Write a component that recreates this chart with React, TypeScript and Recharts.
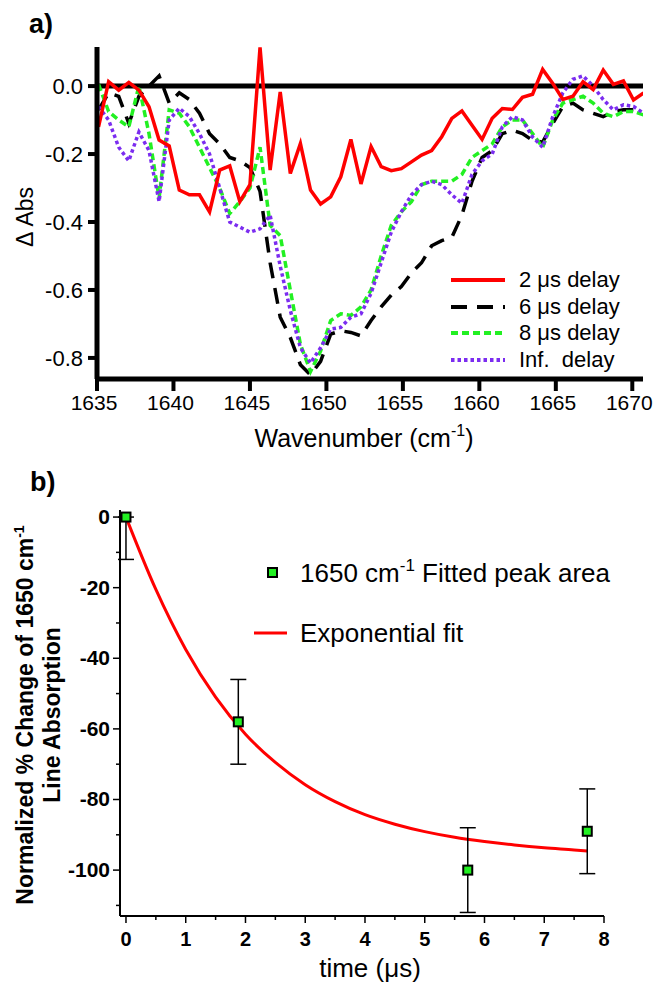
import React from 'react';
import {
  LineChart,
  Line,
  XAxis,
  YAxis,
  ReferenceLine,
  Legend,
  ComposedChart,
  Scatter,
  ErrorBar,
  Label,
} from 'recharts';

const FONT = "'Liberation Sans', Arial, Helvetica, sans-serif";

// ---------- panel a) : transient IR spectra ----------
const wavenumbers = [
  1635.1, 1635.76, 1636.42, 1637.08, 1637.74, 1638.4, 1639.06, 1639.72, 1640.38, 1641.04,
  1641.7, 1642.36, 1643.02, 1643.68, 1644.34, 1645.0, 1645.66, 1646.32, 1646.98, 1647.64,
  1648.3, 1648.96, 1649.62, 1650.28, 1650.94, 1651.6, 1652.26, 1652.92, 1653.58, 1654.24,
  1654.9, 1655.56, 1656.22, 1656.88, 1657.54, 1658.2, 1658.86, 1659.52, 1660.18, 1660.84,
  1661.5, 1662.16, 1662.82, 1663.48, 1664.14, 1664.8, 1665.46, 1666.12, 1666.78, 1667.44,
  1668.1, 1668.76, 1669.42, 1670.08, 1670.74,
];
const delay2us = [
  -0.12, 0.013, -0.012, 0.011, -0.012, -0.061, -0.159, -0.176, -0.306, -0.32,
  -0.32, -0.37, -0.247, -0.235, -0.34, -0.29, 0.114, -0.247, -0.017, -0.257,
  -0.169, -0.306, -0.347, -0.326, -0.267, -0.157, -0.288, -0.178, -0.237, -0.249,
  -0.243, -0.223, -0.203, -0.19, -0.149, -0.095, -0.073, -0.115, -0.157, -0.095,
  -0.066, -0.069, -0.033, -0.024, 0.049, 0.008, -0.039, -0.03, 0.013, -0.01,
  0.047, 0.005, 0.015, -0.041, -0.02,
];
const delay6us = [
  -0.07, -0.02, -0.03, -0.11, -0.03, 0.0, 0.03, -0.05, -0.02, -0.04,
  -0.08, -0.14, -0.17, -0.21, -0.22, -0.24, -0.31, -0.52, -0.68, -0.74,
  -0.82, -0.85, -0.81, -0.73, -0.72, -0.725, -0.735, -0.69, -0.65, -0.615,
  -0.59, -0.55, -0.52, -0.47, -0.455, -0.445, -0.38, -0.28, -0.21, -0.19,
  -0.14, -0.13, -0.14, -0.16, -0.165, -0.11, -0.06, -0.05, -0.07, -0.08,
  -0.09, -0.075, -0.07, -0.07, -0.075,
];
const delay8us = [
  0.005, -0.075, -0.1, -0.12, 0.0, -0.14, -0.33, -0.07, -0.08, -0.12,
  -0.18, -0.24, -0.3, -0.375, -0.34, -0.3, -0.18, -0.41, -0.44, -0.6,
  -0.76, -0.84, -0.78, -0.69, -0.67, -0.675, -0.65, -0.6, -0.5, -0.41,
  -0.37, -0.34, -0.29, -0.28, -0.28, -0.28, -0.26, -0.21, -0.19, -0.17,
  -0.12, -0.1, -0.1, -0.14, -0.18, -0.1, -0.05, -0.04, -0.03, -0.05,
  -0.08, -0.09, -0.075, -0.075, -0.085,
];
const delayInf = [
  -0.06, -0.1, -0.18, -0.22, -0.135, -0.19, -0.34, -0.1, -0.065, -0.09,
  -0.14, -0.2, -0.3, -0.4, -0.415, -0.43, -0.42, -0.38, -0.53, -0.66,
  -0.77, -0.815, -0.77, -0.715, -0.71, -0.68, -0.67, -0.61, -0.52, -0.43,
  -0.37, -0.32, -0.29, -0.28, -0.29, -0.32, -0.345, -0.26, -0.22, -0.2,
  -0.12, -0.09, -0.1, -0.15, -0.18, -0.09, -0.02, 0.02, 0.03, 0.0,
  -0.04, -0.07, -0.055, -0.06, -0.08,
];
const wavenumberTicks = [1635, 1640, 1645, 1650, 1655, 1660, 1665, 1670];
const absTicks = [0, -0.2, -0.4, -0.6, -0.8];

// ---------- panel b) : kinetics ----------
const timeUs = [0, 1.88, 5.72, 7.72];
const pctChange = [0, -58, -100, -89];
const pctError = [12, 12, 12, 12];
const fitTimeUs = [0, 0.5, 1, 1.5, 2, 2.5, 3, 3.5, 4, 4.5, 5, 5.5, 6, 6.5, 7, 7.5, 7.72];
const fitPct = [
  0, -20.5, -37.5, -51, -61.5, -69.5, -75.8, -80.6, -84.3, -87.0, -89.1, -90.7, -91.9,
  -92.9, -93.7, -94.3, -94.6,
];
const timeTicks = [0, 0.5, 1, 1.5, 2, 2.5, 3, 3.5, 4, 4.5, 5, 5.5, 6, 6.5, 7, 7.5, 8];
const pctTicks = [0, -10, -20, -30, -40, -50, -60, -70, -80, -90, -100, -110];
const PCT_DOMAIN: [number, number] = [-113, 2];

const spectrumSeries = [
  { key: 'd2', name: '2 \u03bcs delay', values: delay2us, color: '#ff0000', dash: undefined as string | undefined },
  { key: 'd6', name: '6 \u03bcs delay', values: delay6us, color: '#000000', dash: '16 10' },
  { key: 'd8', name: '8 \u03bcs delay', values: delay8us, color: '#22f022', dash: '7 4' },
  { key: 'dInf', name: 'Inf.  delay', values: delayInf, color: '#7b2cf0', dash: '3.5 3' },
];
const drawOrder = ['d6', 'd8', 'dInf', 'd2'];

const spectrumRows = wavenumbers.map((wn, i) => {
  const row: Record<string, number> = { wn };
  spectrumSeries.forEach((s) => {
    row[s.key] = s.values[i];
  });
  return row;
});

// error bars are cut at the top edge of the plot, as in the original figure
const pointRows = timeUs.map((t, i) => {
  const e = pctError[i];
  const upper = pctChange[i] + e > PCT_DOMAIN[1] ? 0 : e;
  return { t, pct: pctChange[i], err: [e, upper] };
});
const fitRows = fitTimeUs.map((t, i) => ({ t, pct: fitPct[i] }));

// ---------- custom pieces ----------
const AbsLabel = (props: any) => {
  const vb = props.viewBox;
  const cx = vb.x - 4;
  const cy = vb.y + vb.height / 2 + 4;
  return (
    <text x={cx} y={cy} transform={`rotate(-90 ${cx} ${cy})`} textAnchor="middle"
      fontSize={23} fontFamily={FONT} fill="#000">
      {'\u0394 Abs'}
    </text>
  );
};

const WnLabel = (props: any) => {
  const vb = props.viewBox;
  const cx = vb.x + vb.width / 2 - 6;
  const cy = vb.y + 68;
  return (
    <text x={cx} y={cy} textAnchor="middle" fontSize={25} fontFamily={FONT} fill="#000">
      Wavenumber (cm<tspan dy={-11} fontSize={16}>-1</tspan>
      <tspan dy={11}>)</tspan>
    </text>
  );
};

const SpectrumLegend = () => (
  <div style={{ fontFamily: FONT, fontSize: 22, color: '#000', lineHeight: 1 }}>
    {spectrumSeries.map((s) => (
      <div key={s.key} style={{ display: 'flex', alignItems: 'center', height: 26.5 }}>
        <svg width={54} height={8} style={{ marginRight: 14, flex: 'none' }}>
          <line x1={0} y1={4} x2={54} y2={4} stroke={s.color} strokeWidth={4} strokeDasharray={s.dash} />
        </svg>
        <span style={{ whiteSpace: 'pre' }}>{s.name}</span>
      </div>
    ))}
  </div>
);

const PctTick = (props: any) => {
  const { x, y, payload } = props;
  const v = payload.value;
  const major = v % 20 === 0;
  const len = major ? 7 : 4;
  return (
    <g>
      <line x1={x - len} y1={y} x2={x} y2={y} stroke="#000" strokeWidth={1.5} />
      {major && (
        <text x={x - len - 3} y={y} dy={7} textAnchor="end" fontSize={21} fontWeight="bold"
          fontFamily={FONT} fill="#000">
          {v}
        </text>
      )}
    </g>
  );
};

const TimeTick = (props: any) => {
  const { x, y, payload } = props;
  const v = payload.value;
  const major = Number.isInteger(v);
  const len = major ? 7 : 4;
  return (
    <g>
      <line x1={x} y1={y} x2={x} y2={y + len} stroke="#000" strokeWidth={1.5} />
      {major && (
        <text x={x} y={y + 30} textAnchor="middle" fontSize={20} fontWeight="bold"
          fontFamily={FONT} fill="#000">
          {v}
        </text>
      )}
    </g>
  );
};

const PctLabel = (props: any) => {
  const vb = props.viewBox;
  const cy = vb.y + vb.height / 2 + 2;
  const x1 = vb.x - 37;
  const x2 = vb.x - 10;
  return (
    <g fontFamily={FONT} fontWeight="bold" fontSize={23} fill="#000">
      <text x={x1} y={cy} transform={`rotate(-90 ${x1} ${cy})`} textAnchor="middle">
        Normalized % Change of 1650 cm<tspan dy={-9} fontSize={14}>-1</tspan>
      </text>
      <text x={x2} y={cy} transform={`rotate(-90 ${x2} ${cy})`} textAnchor="middle">
        Line Absorption
      </text>
    </g>
  );
};

const TimeLabel = (props: any) => {
  const vb = props.viewBox;
  const cx = vb.x + vb.width / 2 + 8;
  const cy = vb.y + 61;
  return (
    <text x={cx} y={cy} textAnchor="middle" fontSize={26} fontFamily={FONT} fill="#000">
      {'time (\u03bcs)'}
    </text>
  );
};

const KineticsLegend = () => (
  <div style={{ fontFamily: FONT, fontSize: 26, color: '#000', lineHeight: 1 }}>
    <div style={{ display: 'flex', alignItems: 'center', height: 36 }}>
      <svg width={46} height={14} style={{ flex: 'none' }}>
        <rect x={14} y={2} width={9} height={9} fill="#22f022" stroke="#000" strokeWidth={2} />
      </svg>
      <span style={{ whiteSpace: 'pre' }}>
        1650 cm<sup style={{ fontSize: 17, verticalAlign: 'top', position: 'relative', top: -3 }}>-1</sup> Fitted peak area
      </span>
    </div>
    <div style={{ display: 'flex', alignItems: 'center', height: 36, marginTop: 24 }}>
      <svg width={46} height={6} style={{ flex: 'none' }}>
        <line x1={0} y1={3} x2={33} y2={3} stroke="#ff0000" strokeWidth={3} />
      </svg>
      <span style={{ whiteSpace: 'pre' }}>Exponential fit</span>
    </div>
  </div>
);

const SquareDot = (props: any) => {
  const { cx, cy } = props;
  return <rect x={cx - 4.5} y={cy - 4.5} width={9} height={9} fill="#22f022" stroke="#000" strokeWidth={2} />;
};

export default function App() {
  return (
    <div style={{ position: 'absolute', left: 0, top: 0, width: 655, height: 990, background: '#fff' }}>
      <div style={{ position: 'absolute', left: 29, top: 10, fontFamily: FONT, fontSize: 27, fontWeight: 'bold', lineHeight: '28px' }}>
        a)
      </div>
      <div style={{ position: 'absolute', left: 30, top: 468, fontFamily: FONT, fontSize: 27, fontWeight: 'bold', lineHeight: '28px' }}>
        b)
      </div>

      <div style={{ position: 'absolute', left: 0, top: 0 }}>
        <LineChart width={655} height={470} data={spectrumRows}
          margin={{ top: 47, right: 12, left: 37, bottom: 31 }}>
          <XAxis type="number" dataKey="wn" domain={[1635, 1670.7]} ticks={wavenumberTicks}
            allowDataOverflow interval={0} height={60}
            axisLine={{ stroke: '#000', strokeWidth: 5 }}
            tickLine={{ stroke: '#000', strokeWidth: 4 }} tickSize={12} tickMargin={4}
            tick={{ fill: '#000', fontSize: 21, fontFamily: FONT, dx: -3 }}
            label={<Label content={WnLabel} />} />
          <YAxis type="number" domain={[-0.862, 0.115]} ticks={absTicks} allowDataOverflow
            interval={0} width={60} tickFormatter={(v: number) => v.toFixed(1)}
            axisLine={{ stroke: '#000', strokeWidth: 5 }}
            tickLine={{ stroke: '#000', strokeWidth: 4 }} tickSize={9} tickMargin={5}
            tick={{ fill: '#000', fontSize: 22, fontFamily: FONT }}
            label={<Label content={AbsLabel} />} />
          <ReferenceLine y={0} stroke="#000" strokeWidth={5} />
          {drawOrder.map((k) => {
            const s = spectrumSeries.find((q) => q.key === k)!;
            return (
              <Line key={k} type="linear" dataKey={k} name={s.name} stroke={s.color}
                strokeWidth={3.5} strokeDasharray={s.dash} dot={false} activeDot={false}
                isAnimationActive={false} />
            );
          })}
          <Legend layout="vertical" align="center" verticalAlign="middle"
            content={<SpectrumLegend />}
            wrapperStyle={{ left: 451, top: 267, width: 200, height: 106 }} />
        </LineChart>
      </div>

      <div style={{ position: 'absolute', left: 0, top: 470 }}>
        <ComposedChart width={655} height={520} margin={{ top: 40, right: 51, left: 70, bottom: 24 }}>
          <XAxis type="number" dataKey="t" domain={[-0.1, 8]} ticks={timeTicks} allowDataOverflow
            interval={0} height={50} tickSize={0} tickMargin={0} tickLine={false}
            axisLine={{ stroke: '#000', strokeWidth: 2 }} tick={<TimeTick />}
            label={<Label content={TimeLabel} />} />
          <YAxis type="number" domain={PCT_DOMAIN} ticks={pctTicks} allowDataOverflow
            interval={0} width={50} tickSize={0} tickMargin={0} tickLine={false}
            axisLine={{ stroke: '#000', strokeWidth: 2 }} tick={<PctTick />}
            label={<Label content={PctLabel} />} />
          <Line data={fitRows} type="monotone" dataKey="pct" stroke="#ff0000" strokeWidth={3}
            dot={false} activeDot={false} isAnimationActive={false} />
          <Scatter data={pointRows} dataKey="pct" shape={<SquareDot />} isAnimationActive={false}>
            <ErrorBar dataKey="err" direction="y" width={8} stroke="#000" strokeWidth={1.5} />
          </Scatter>
          <Legend layout="vertical" align="center" verticalAlign="middle"
            content={<KineticsLegend />}
            wrapperStyle={{ left: 254, top: 85, width: 380, height: 100 }} />
        </ComposedChart>
      </div>
    </div>
  );
}
